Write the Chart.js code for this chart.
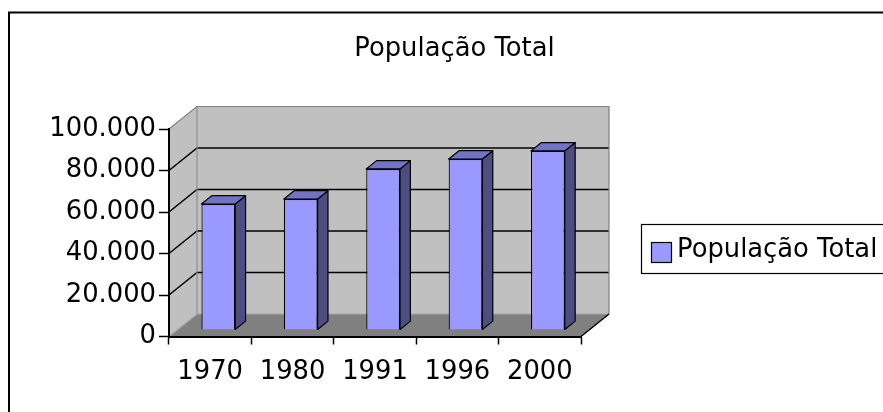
<!DOCTYPE html>
<html><head><meta charset="utf-8">
<script src="https://cdn.jsdelivr.net/npm/chart.js@4.4.0/dist/chart.umd.min.js"></script>
<style>html,body{margin:0;padding:0;background:#fff;overflow:hidden}canvas{display:block}</style>
</head><body>
<canvas id="c" width="883" height="412"></canvas>
<script>
const chartTitle = 'População Total';
const seriesLabel = 'População Total';
const categories = ['1970', '1980', '1991', '1996', '2000'];
const populationValues = [60700, 63100, 77600, 82400, 86300];
const yTickValues = [0, 20000, 40000, 60000, 80000, 100000];
const yTickLabels = ['0', '20.000', '40.000', '60.000', '80.000', '100.000'];

const FONT = "'DejaVu Sans', Verdana, sans-serif";
const FONT_SIZE = 25.8;
const DEPTH = { dx: 28, dy: -22.5 };
const BAR_FRONT = 0.29, BAR_DEPTH = 0.37;

function line(ctx, pts, color, w) {
  ctx.beginPath();
  ctx.moveTo(pts[0][0], pts[0][1]);
  for (let i = 1; i < pts.length; i++) ctx.lineTo(pts[i][0], pts[i][1]);
  ctx.strokeStyle = color; ctx.lineWidth = w; ctx.stroke();
}
function poly(ctx, pts, fill, stroke, w) {
  ctx.beginPath();
  ctx.moveTo(pts[0][0], pts[0][1]);
  for (let i = 1; i < pts.length; i++) ctx.lineTo(pts[i][0], pts[i][1]);
  ctx.closePath();
  ctx.fillStyle = fill; ctx.fill();
  if (stroke) { ctx.strokeStyle = stroke; ctx.lineWidth = w; ctx.stroke(); }
}

const threeD = {
  id: 'threeD',
  beforeDraw(chart) {
    const ctx = chart.ctx;
    const { left, right, top, bottom } = chart.chartArea;
    const ys = chart.scales.y;
    const dx = DEPTH.dx, dy = DEPTH.dy;
    ctx.save();
    ctx.fillStyle = '#fff';
    ctx.fillRect(0, 0, chart.width, chart.height);
    ctx.strokeStyle = '#000'; ctx.lineWidth = 2;
    ctx.strokeRect(9, 12.5, 1000, 1000);
    poly(ctx, [[left, top], [left + dx, top + dy], [left + dx, bottom + dy], [left, bottom]], '#C0C0C0');
    poly(ctx, [[left + dx, top + dy], [right + dx, top + dy], [right + dx, bottom + dy], [left + dx, bottom + dy]], '#C0C0C0');
    poly(ctx, [[left, bottom], [right, bottom], [right + dx, bottom + dy], [left + dx, bottom + dy]], '#808080');
    yTickValues.forEach(v => {
      if (v === ys.min || v === ys.max) return;
      const y = ys.getPixelForValue(v);
      line(ctx, [[left, y], [left + dx, y + dy], [right + dx, y + dy]], '#000', 1.5);
    });
    line(ctx, [[left, top], [left + dx, top + dy], [right + dx, top + dy], [right + dx, bottom + dy]], '#808080', 1.2);
    line(ctx, [[left + dx, top + dy], [left + dx, bottom + dy]], '#8c8c8c', 1.2);
    line(ctx, [[left, bottom], [left + dx, bottom + dy], [right + dx, bottom + dy]], '#a8a8a8', 1.2);
    line(ctx, [[right, bottom], [right + dx, bottom + dy]], '#000', 1.5);
    ctx.restore();
  },
  beforeDatasetDraw(chart) {
    chart.ctx.save();
    chart.ctx.translate(DEPTH.dx * BAR_FRONT, DEPTH.dy * BAR_FRONT);
  },
  afterDatasetDraw(chart, args) {
    const ctx = chart.ctx;
    const bdx = DEPTH.dx * BAR_DEPTH, bdy = DEPTH.dy * BAR_DEPTH;
    args.meta.data.forEach(el => {
      const p = el.getProps(['x', 'y', 'base', 'width'], true);
      const l = p.x - p.width / 2, r = p.x + p.width / 2;
      const t = Math.min(p.y, p.base), b = Math.max(p.y, p.base);
      ctx.lineJoin = 'round';
      poly(ctx, [[r, t], [r + bdx, t + bdy], [r + bdx, b + bdy], [r, b]], '#4D4D80', '#000', 1.2);
      poly(ctx, [[l, t], [l + bdx, t + bdy], [r + bdx, t + bdy], [r, t]], '#7373C4', '#000', 1.2);
    });
    ctx.restore();
  },
  afterDraw(chart) {
    const ctx = chart.ctx;
    ctx.save();
    ctx.fillStyle = '#000';
    ctx.font = FONT_SIZE + 'px ' + FONT;
    ctx.textAlign = 'center';
    ctx.textBaseline = 'alphabetic';
    ctx.fillText(chartTitle, 454.5, 56);
    ctx.strokeStyle = '#000'; ctx.lineWidth = 1.2;
    ctx.strokeRect(641.5, 224.5, 400, 49);
    const ds = chart.data.datasets[0];
    ctx.fillStyle = ds.backgroundColor;
    ctx.fillRect(651.5, 242.5, 20, 20);
    ctx.strokeRect(651.5, 242.5, 20, 20);
    ctx.fillStyle = '#000';
    ctx.textAlign = 'left';
    ctx.fillText(ds.label, 677, 257);
    ctx.restore();
  }
};

new Chart(document.getElementById('c'), {
  type: 'bar',
  data: {
    labels: categories,
    datasets: [{
      label: seriesLabel,
      data: populationValues,
      backgroundColor: '#9999FF',
      borderColor: '#000',
      borderWidth: 1.2,
      barPercentage: 0.41,
      categoryPercentage: 1,
      clip: false
    }]
  },
  options: {
    responsive: false,
    animation: false,
    devicePixelRatio: 1,
    layout: { padding: { left: 0, right: 302, top: 129, bottom: 0 } },
    plugins: { legend: { display: false }, title: { display: false }, tooltip: { enabled: false } },
    scales: {
      x: {
        grid: { display: true, drawOnChartArea: false, drawTicks: true, tickLength: 8, tickColor: '#000', tickWidth: 1.5, offset: true },
        border: { display: true, color: '#000', width: 2 },
        ticks: { color: '#000', font: { family: FONT, size: FONT_SIZE }, padding: 12, maxRotation: 0, autoSkip: false },
        afterFit(s) { s.height = 75.5; }
      },
      y: {
        min: 0, max: 100000,
        grid: { drawOnChartArea: false, drawTicks: true, tickLength: 10, tickColor: '#000', tickWidth: 1.5 },
        border: { display: true, color: '#000', width: 2 },
        ticks: {
          stepSize: 20000, color: '#000', font: { family: FONT, size: FONT_SIZE }, padding: 3,
          callback: (v) => { const i = yTickValues.indexOf(v); return i >= 0 ? yTickLabels[i] : ''; }
        },
        afterFit(s) { s.width = 169; }
      }
    }
  },
  plugins: [threeD]
});
</script>
</body></html>
